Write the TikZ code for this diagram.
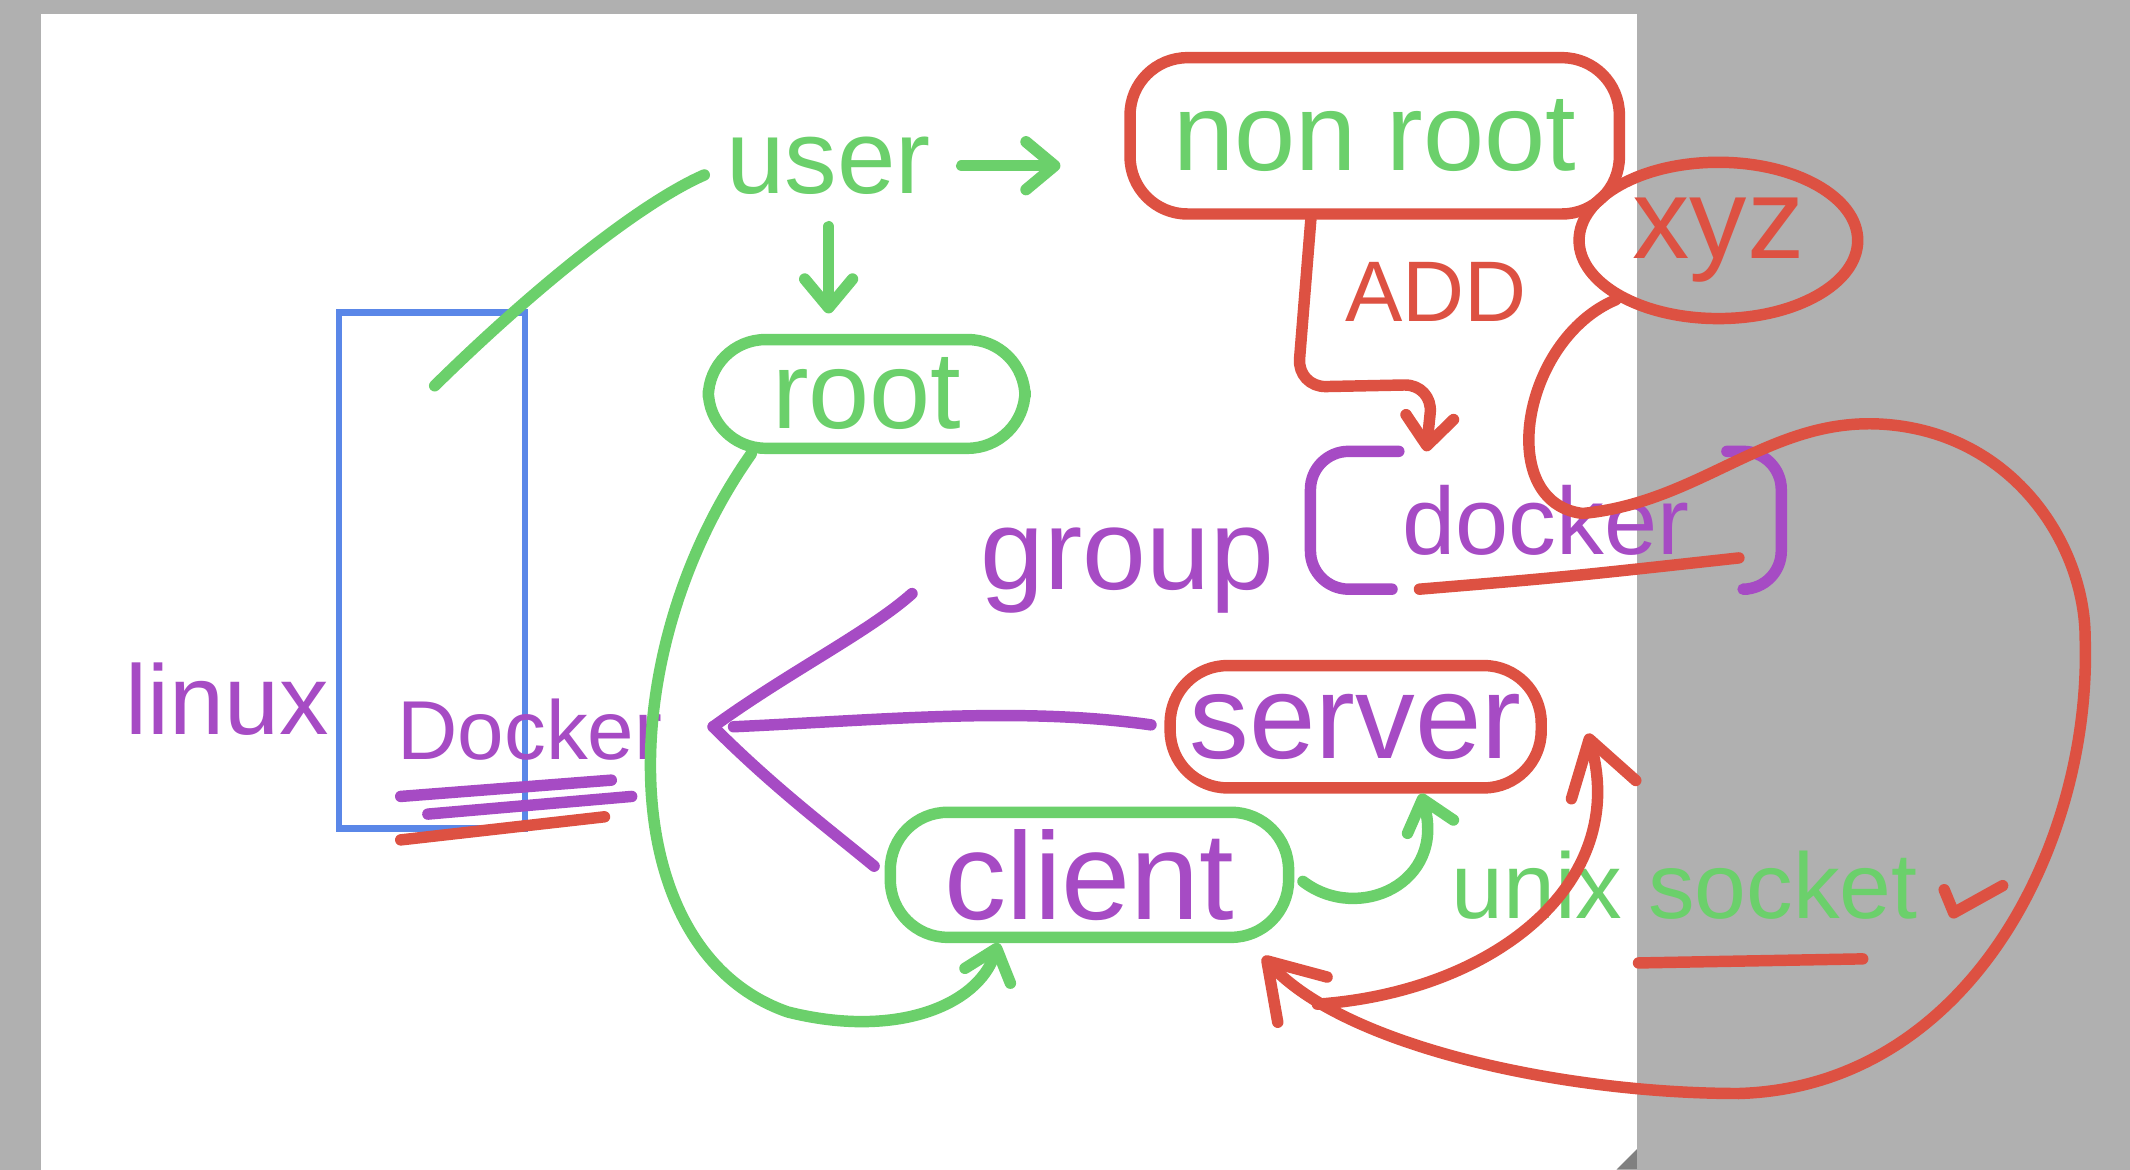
\documentclass[tikz,border=0pt]{standalone}
\usepackage{fontspec}
\setmainfont{Liberation Sans}
\usetikzlibrary{arrows.meta,positioning,shapes.geometric,calc}
\definecolor{hgreen}{HTML}{6BD06B}
\definecolor{hred}{HTML}{DD5142}
\definecolor{hpurple}{HTML}{A64BC4}
\definecolor{hblue}{HTML}{5A87E8}
\definecolor{pagegray}{HTML}{B0B0B0}

\begin{document}
\begin{tikzpicture}[
  x=0.01cm, y=-0.01cm,
  pen/.style={line width=2.4pt, line cap=round, line join=round},
  gline/.style={pen, draw=hgreen},
  rline/.style={pen, draw=hred},
  pline/.style={pen, draw=hpurple},
  barb/.style={-{Straight Barb[round,length=6pt,width=10pt]}},
  bigbarb/.style={-{Straight Barb[round,length=11pt,width=14pt]}},
  box/.style={pen, rounded corners=12pt, inner sep=0pt},
  word/.style={inner sep=0pt, font=\fontsize{#1}{#1}\selectfont},
]
  \fill[pagegray] (0,0) rectangle (1568,861);
  \fill[white] (30,10) rectangle (1205,861);
  \fill[gray] (1190,861) -- (1205,846) -- (1205,861) -- cycle;
  \useasboundingbox (0,0) rectangle (1568,861);

  \node[draw=hblue, line width=1.4pt, minimum width=1.37cm, minimum height=3.8cm, inner sep=0pt] (host) at (318,420) {};
  \node[word=20.7, text=hpurple] (linux) at (167,515) {linux};
  \node[word=17.5, text=hpurple] (dkr) at (390,537) {Docker};

  \node[word=22, text=hgreen] (user) at (610,122) {user};
  \node[box, draw=hgreen, minimum width=2.33cm, minimum height=0.8cm, word=23, text=hgreen] (root) at (638,290) {root};
  \node[box, draw=hred, minimum width=3.6cm, minimum height=1.15cm, word=23, text=hgreen] (nonroot) at (1012,100) {non root};
  \node[ellipse, pen, draw=hred, minimum width=2.05cm, minimum height=1.15cm, word=24, text=hred] (xyz) at (1265,177) {xyz};
  \node[word=18, text=hred] (add) at (1057,215) {ADD};
  \node[minimum width=3.45cm, minimum height=1cm, word=20, text=hpurple] (dgrp) at (1138,383) {docker};
  \node[word=24, text=hpurple] (group) at (830,420) {group};
  \node[box, draw=hred, minimum width=2.73cm, minimum height=0.9cm, word=25, text=hpurple] (server) at (998,535) {server};
  \node[box, draw=hgreen, minimum width=2.93cm, minimum height=0.92cm, word=26, text=hpurple] (client) at (802,644) {client};
  \node[word=19.5, text=hgreen] (unix) at (1240,652) {unix socket};

  \coordinate (hostpt) at (320,284);
  \coordinate (fork) at (525,535);

  \draw[gline, shorten >=0.17cm] (hostpt) .. controls (390,215) and (470,150) .. (user.west);
  \draw[gline, barb, shorten <=0.22cm, shorten >=0.47cm] (user.east) -- (nonroot.west |- user.east);
  \draw[gline, barb, shorten <=0.23cm, shorten >=0.15cm] (user.south) -- (user.south |- root.north);
  \draw[gline, barb] ([xshift=-0.85cm]root.south) .. controls (450,480) and (450,700) .. (580,745)
    .. controls (660,765) and (720,740) .. ([xshift=-0.67cm]client.south);

  \draw[rline, barb, rounded corners=6pt] ([xshift=-0.47cm]nonroot.south) -- (955,285) -- (1055,283) -- ([xshift=-0.88cm]dgrp.north);
  \draw[pline, rounded corners=8pt] ([xshift=0.65cm]dgrp.north west) -- (dgrp.north west) -- (dgrp.south west) -- ([xshift=0.6cm]dgrp.south west);
  \draw[pline, rounded corners=8pt] ([xshift=-0.4cm]dgrp.north east) -- (dgrp.north east) -- (dgrp.south east) -- ([xshift=-0.25cm]dgrp.south east);
  \draw[rline] ([xshift=-0.93cm]dgrp.south) .. controls (1150,425) .. ([xshift=1.42cm,yshift=0.23cm]dgrp.south);

  \draw[pline] (fork) .. controls (580,495) and (640,465) .. ([shift={(-50,17)}]group.west);
  \draw[pline, shorten >=0.1cm] ([xshift=0.15cm]fork) .. controls (650,530) and (750,520) .. (server.west);
  \draw[pline, shorten >=0.1cm] (fork) .. controls (570,580) and (610,610) .. (client.west);

  \draw[pline] ([shift={(-95,26)}]dkr.south) -- ++(155,-12);
  \draw[pline] ([shift={(-75,39)}]dkr.south) -- ++(150,-13);
  \draw[rline] ([shift={(-95,58)}]dkr.south) -- ++(150,-17);

  \draw[gline, barb, shorten <=0.08cm] (client.east) .. controls (1000,680) and (1065,650) .. ([xshift=0.48cm]server.south);
  \draw[rline, bigbarb] ([shift={(17,45)}]client.south east) .. controls (1100,730) and (1200,650) .. ([shift={(30,5)}]server.east);
  \draw[rline, bigbarb] (xyz.south west) .. controls (1120,250) and (1100,370) .. (1165,378)
    .. controls (1250,370) and (1300,310) .. (1380,312)
    .. controls (1480,315) and (1535,400) .. (1535,470)
    .. controls (1540,620) and (1450,800) .. (1280,805)
    .. controls (1150,805) and (990,770) .. ([shift={(-23,10)}]client.south east);

  \draw[rline] ([shift={(-206,31)}]unix.south east) -- ++(165,-3);
  \draw[rline] ([shift={(19,3)}]unix.east) -- ++(7,17) -- ++(36,-20);
\end{tikzpicture}
\end{document}
